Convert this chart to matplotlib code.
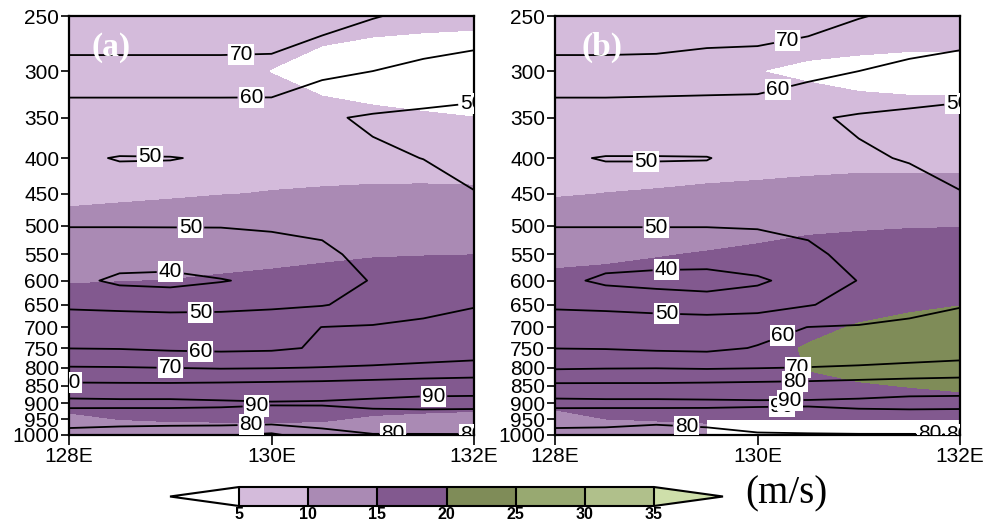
import numpy as np
import matplotlib
matplotlib.use("Agg")
import matplotlib.pyplot as plt
from matplotlib.colors import ListedColormap, BoundaryNorm
from matplotlib.ticker import NullLocator

plt.rcParams["font.family"] = ["Liberation Sans", "DejaVu Sans"]

# grid of the cross section
lons = [128.0, 128.5, 129.0, 129.5, 130.0, 130.5, 131.0, 131.5, 132.0]
levs = [250, 300, 350, 400, 450, 500, 550, 600, 650, 700, 750, 800, 850, 900, 950, 1000]
lon_ticks = [128, 130, 132]
lon_labels = ["128E", "130E", "132E"]

# wind speed (m/s), one row per level, shaded
wind_a = [
    [7, 7, 7, 7, 7, 6.6, 6.4, 6.2, 6.1],
    [7.5, 7.5, 7, 6.5, 4.9, 3.5, 2.5, 2, 1.5],
    [8, 8, 8, 7.8, 7, 6.4, 6, 5.5, 5.05],
    [8.5, 8.5, 8.6, 8.8, 9, 9.2, 9.2, 9, 8.8],
    [9, 9.3, 9.6, 9.9, 10.1, 10.2, 10.3, 10.4, 10.4],
    [11.5, 11.8, 12, 12.2, 12.5, 12.8, 13, 13, 13],
    [13, 13.2, 13.5, 13.8, 14, 14.5, 14.8, 14.9, 14.97],
    [14.7, 14.9, 15.05, 15.4, 15.8, 16, 16.3, 16.5, 16.5],
    [17, 17, 17.2, 17.5, 17.5, 17.8, 18, 18, 18],
    [17.5, 17.5, 17.8, 18, 18, 18.5, 18.5, 18.8, 19],
    [17.5, 17.8, 18, 18.2, 18.5, 18.8, 19, 19, 19.2],
    [17.5, 17.8, 18, 18, 18.2, 18.5, 18.5, 18.8, 19],
    [17.5, 17.5, 17.5, 17.8, 18, 18, 18, 18, 18],
    [16.5, 16.7, 16.8, 16.8, 16.8, 16.7, 16.5, 16.2, 16],
    [14, 15, 15.3, 15.4, 15.5, 15.3, 14.5, 14.2, 14],
    [13, 13, 13, 13, 13, 13, 13, 13, 13],
]
wind_b = [
    [7.5, 7.5, 7.5, 7.5, 8, 9.5, 9, 8.3, 8.3],
    [8, 8, 8, 7.5, 5.1, 3.8, 3.2, 3, 3],
    [8.5, 8.5, 8.5, 8.8, 9, 9.25, 7.5, 7, 7],
    [9, 9.2, 9.4, 9.5, 9.6, 9.7, 9.75, 9.75, 9.75],
    [9.8, 10.02, 10.1, 10.2, 10.25, 10.3, 10.35, 10.35, 10.35],
    [11.5, 12, 12.5, 13.5, 14, 14.5, 14.7, 14.85, 14.9],
    [14.3, 14.5, 14.8, 15.2, 15.6, 16, 16.2, 16.3, 16.4],
    [15.6, 15.8, 16.3, 16.6, 17, 17, 17, 17.5, 18],
    [16.5, 16.7, 17, 17, 17, 17.5, 18, 19.2, 19.9],
    [17, 17, 17, 17.2, 17.5, 18.5, 20.5, 21.5, 22],
    [17, 17, 17.2, 17.5, 18, 20.5, 21.5, 22, 22.5],
    [17, 17, 17.2, 17.5, 17.8, 20.2, 21, 21.5, 22],
    [16.8, 17, 17, 17.2, 17.5, 19, 19.7, 20.1, 20.6],
    [16.5, 16.5, 16.5, 16.5, 16.5, 16.5, 17, 18.8, 18.8],
    [12.75, 14.95, 15.1, 15.3, 16, 16.3, 16.5, 16.5, 16.5],
    [12, 13, 14, 14, np.nan, np.nan, np.nan, np.nan, np.nan],
]

# relative humidity (%), contour lines
rh_a = [
    [80, 80, 80, 80, 78, 74, 70.5, 68, 66],
    [65.5, 65.5, 65.5, 65.5, 66, 62, 60, 57.5, 56],
    [55.5, 55.5, 55.5, 55.5, 55, 51, 49, 48, 47],
    [51, 49.7, 49.8, 50.6, 53, 53, 51.2, 49.9, 47.5],
    [53, 53, 53, 53, 53.5, 54, 54, 53, 50.3],
    [50.3, 50.3, 50.3, 50.3, 50.8, 51, 52, 53, 53],
    [45, 45, 45.5, 46, 47, 49, 51.5, 53, 53.5],
    [43, 38, 37, 39.5, 42, 46, 50.5, 53, 54],
    [49, 48.5, 48, 48, 48.5, 49.5, 53, 58.5, 59.7],
    [54, 54, 54, 54.5, 56, 60.1, 60.8, 61, 62],
    [59.8, 59.5, 58.5, 58, 58.5, 61, 62.5, 64, 65],
    [70.5, 70.3, 69.8, 69.2, 69.5, 70.2, 71, 72, 73],
    [82.2, 82, 82, 82.5, 83, 83.5, 84.5, 85.5, 86],
    [93, 92.5, 92.5, 91.5, 90.7, 91, 92, 93, 93],
    [83, 84, 84, 85.5, 85.5, 84, 86, 85, 84.5],
    [77.5, 75, 74, 71, 68, 77, 79.5, 79.6, 79.7],
]
rh_b = [
    [80, 80, 80, 77, 75.5, 74, 70.5, 68, 66],
    [65.5, 65.5, 65, 64.5, 65, 62.5, 60, 57.5, 56],
    [55.5, 55.5, 55.5, 55.5, 54.5, 51, 49, 48, 47],
    [50.8, 49.7, 49.7, 49.8, 52, 53, 51, 49.5, 47.5],
    [53, 53, 53, 53, 53.5, 54, 54, 53, 50.3],
    [50.3, 50.3, 50.3, 50.3, 50.5, 51, 52, 53, 53],
    [45, 45, 45, 45, 46.5, 49, 51.5, 53, 53.5],
    [43, 38, 36.5, 36, 38.5, 44, 50.3, 53, 54],
    [49, 48.5, 47, 45, 46, 49.5, 53, 58.5, 59.7],
    [54, 54, 55, 56.4, 57, 60.1, 60.8, 61, 62],
    [59.8, 59.5, 58.5, 58, 60.5, 61, 62.5, 64, 65],
    [68.8, 69.3, 69.5, 69, 69.5, 70.2, 71, 72, 73],
    [82, 82, 82, 82.5, 83, 83.5, 84.5, 85.5, 86],
    [93, 92.5, 92.5, 92, 91.5, 91.5, 92, 93, 93],
    [83, 84, 84, 85, 85, 84, 86, 85, 84.5],
    [77.5, 76, 72, 75, 79, 79.5, 79.5, 79.6, 79.7],
]

shade_levels = [5, 10, 15, 20, 25, 30, 35]
shade_colors = ["#d4bbdb", "#aa8ab4", "#82598f", "#7f8c58", "#98a971", "#b0c08b"]
rh_levels = [40, 50, 60, 70, 80, 90]

# where the line labels sit (lon, hPa)
label_pos_a = [(129.7, 285), (129.8, 327), (131.98, 335), (128.8, 400), (129.2, 505),
               (129.0, 585), (129.3, 668), (129.3, 763), (129.0, 808), (127.98, 843),
               (131.6, 878), (129.85, 905), (129.8, 963), (131.2, 998), (131.98, 998)]
label_pos_b = [(130.3, 273), (130.2, 318), (131.98, 335), (128.9, 402), (129.0, 509),
               (129.1, 583), (129.1, 672), (130.29, 748), (130.4, 795), (130.37, 838),
               (130.24, 905), (130.32, 885), (129.3, 965), (131.7, 998), (131.98, 998)]

cmap = ListedColormap(shade_colors)
cmap.set_under("white")
cmap.set_over("#cedfaa")
norm = BoundaryNorm(shade_levels, cmap.N)


def draw_panel(ax, wind, rh, label_pos, tag, tag_x):
    ax.set_yscale("log")
    ax.set_xlim(128, 132)
    ax.set_ylim(1000, 250)
    X, Y = np.meshgrid(lons, levs)
    cf = ax.contourf(X, Y, np.array(wind, dtype=float), levels=shade_levels,
                     cmap=cmap, norm=norm, extend="both", corner_mask=False)
    cs = ax.contour(X, Y, np.array(rh, dtype=float), levels=rh_levels,
                    colors="black", linewidths=1.3)
    labs = ax.clabel(cs, fmt="%d", fontsize=15, inline=True, inline_spacing=2,
                     manual=label_pos)
    for t in labs:
        t.set_rotation(0)
        t.set_bbox(dict(boxstyle="square,pad=0.05", fc="white", ec="none"))
        t.set_clip_on(True)

    ax.set_yticks(levs)
    ax.set_yticklabels([str(p) for p in levs])
    ax.yaxis.set_minor_locator(NullLocator())
    ax.set_xticks(lon_ticks)
    ax.set_xticklabels(lon_labels)
    ax.tick_params(axis="y", direction="out", length=6, width=1.2, labelsize=15, pad=1)
    ax.tick_params(axis="x", direction="out", length=7, width=1.2, labelsize=15, pad=2)
    for s in ax.spines.values():
        s.set_linewidth(1.6)
    ax.text(tag_x, 0.926, tag, transform=ax.transAxes, color="white", fontsize=24,
            fontweight="bold", family="Liberation Serif", ha="left", va="center")
    return cf


fig = plt.figure(figsize=(9.85, 5.22), dpi=100)
ax_a = fig.add_axes([69 / 985, 87 / 522, 405 / 985, 419 / 522])
ax_b = fig.add_axes([555 / 985, 87 / 522, 405 / 985, 419 / 522])

cf = draw_panel(ax_a, wind_a, rh_a, label_pos_a, "(a)", 0.055)
draw_panel(ax_b, wind_b, rh_b, label_pos_b, "(b)", 0.065)

# colorbar axes includes the two triangular ends
cax = fig.add_axes([170 / 985, 16 / 522, 553 / 985, 19 / 522])
cb = fig.colorbar(cf, cax=cax, orientation="horizontal", extend="both",
                  extendfrac=1 / 6, drawedges=True)
cb.set_ticks(shade_levels)
cb.ax.tick_params(length=0, pad=1, labelsize=11.5)
for lab in cb.ax.get_xticklabels():
    lab.set_fontweight("bold")
cb.outline.set_linewidth(1.5)
cb.dividers.set_linewidth(1.5)

fig.text(786 / 985, 1 - 494 / 522, "(m/s)", fontsize=28, family="Liberation Serif",
         ha="center", va="center")

fig.savefig("out.png", dpi=100)
